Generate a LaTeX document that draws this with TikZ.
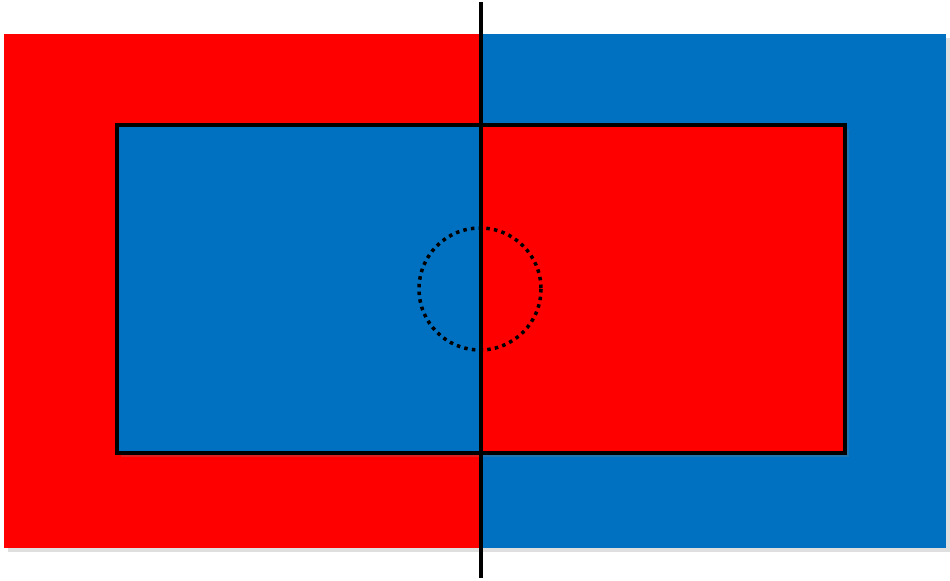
\documentclass[tikz,border=0pt]{standalone}
\usepackage{xcolor}
\usetikzlibrary{
    positioning,
    shadows,
}
\definecolor{flagred}{HTML}{FF0000}
\definecolor{flagblue}{HTML}{0070C0}
\tikzset{
    % Basic fill styles
    half/.style={draw=none},
    red half/.style={half, fill=flagred},
    blue half/.style={half, fill=flagblue},
    soft shadow/.style={drop shadow={opacity=0.25, shadow xshift=2pt, shadow yshift=-2pt}},
    % Line styles
    frame/.style={draw=black, line width=2.2pt},
    axis line/.style={draw=black, line width=2.3pt},
    dotted ring/.style={draw=black, line width=2pt, dash pattern=on 2pt off 2.4pt},
}

\begin{document}
\begin{tikzpicture}[x=0.02cm, y=-0.02cm]
    \useasboundingbox (0, 0) rectangle (950, 581);

    % Outer halves
    \fill[soft shadow, fill=flagred] (4, 34) rectangle (946, 548);
    \fill[red half] (4, 34) rectangle (481, 548);
    \fill[blue half] (481, 34) rectangle (946, 548);

    % Inner halves
    \fill[soft shadow, fill=flagblue] (117, 125) rectangle (845, 453);
    \fill[blue half] (117, 125) rectangle (481, 453);
    \fill[red half] (481, 125) rectangle (845, 453);
    \draw[frame] (117, 125) rectangle (845, 453);

    % Dotted circle
    \coordinate (centre) at (480, 289);
    \draw[dotted ring] (centre) circle[radius=61];

    % Vertical divider
    \coordinate (top) at (481, 2);
    \coordinate (bottom) at (481, 578);
    \draw[axis line] (top) -- (bottom);
\end{tikzpicture}
\end{document}
